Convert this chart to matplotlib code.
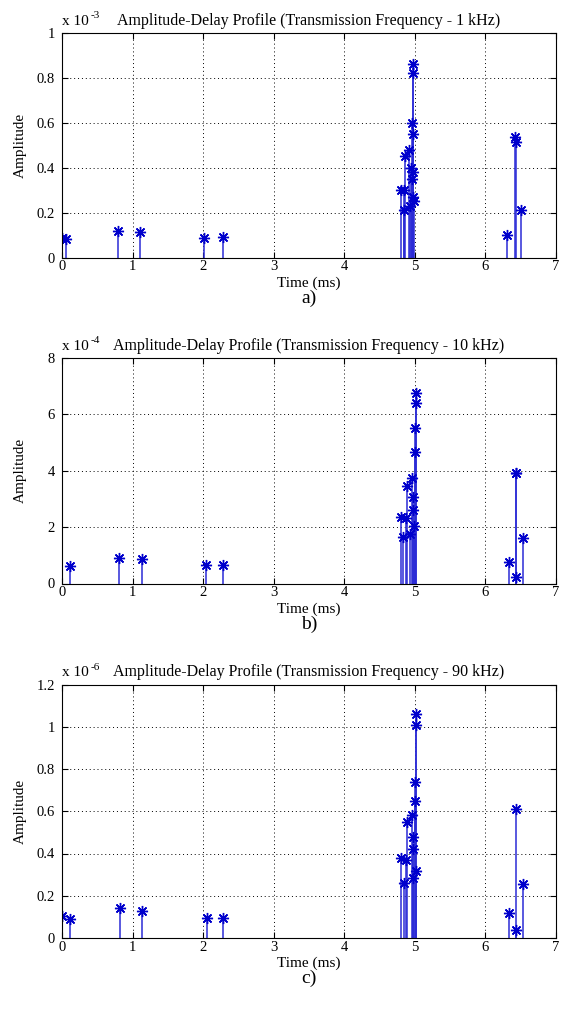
import matplotlib
matplotlib.use("Agg")
import matplotlib.pyplot as plt
import numpy as np

plt.rcParams['font.family'] = ['Liberation Serif', 'DejaVu Serif']

# ---------------- data ----------------
# Panel a) 1 kHz, amplitude x 1e-3
t_a = [0.00, 0.06, 0.80, 1.10, 2.01, 2.28,
       4.80, 4.84, 4.84, 4.86, 4.92, 4.93, 4.95, 4.96, 4.97, 4.97, 4.98, 4.98, 4.99, 4.96, 4.98,
       6.30, 6.42, 6.43, 6.50]
v_a = [0.085, 0.082, 0.117, 0.112, 0.088, 0.092,
       0.30, 0.30, 0.21, 0.45, 0.48, 0.23, 0.40, 0.60, 0.27, 0.38, 0.82, 0.86, 0.25, 0.35, 0.55,
       0.10, 0.535, 0.515, 0.21]

# Panel b) 10 kHz, amplitude x 1e-4
t_b = [0.12, 0.81, 1.14, 2.04, 2.28,
       4.81, 4.83, 4.87, 4.89, 4.93, 4.96, 4.97, 4.99, 5.00, 5.01, 5.01, 4.98, 5.00,
       6.34, 6.43, 6.44, 6.44, 6.53]
v_b = [0.62, 0.92, 0.86, 0.65, 0.65,
       2.37, 1.66, 2.33, 3.46, 1.75, 3.73, 3.08, 2.03, 4.68, 6.42, 6.75, 2.6, 5.5,
       0.77, 3.91, 3.91, 0.24, 1.60]

# Panel c) 90 kHz, amplitude x 1e-6
t_c = [0.00, 0.11, 0.82, 1.13, 2.05, 2.28,
       4.81, 4.84, 4.87, 4.89, 4.96, 4.97, 4.97, 5.00, 5.01, 5.01, 5.01, 4.98, 5.00,
       6.34, 6.43, 6.44, 6.53]
v_c = [0.104, 0.090, 0.140, 0.128, 0.093, 0.093,
       0.377, 0.262, 0.370, 0.550, 0.580, 0.480, 0.285, 0.737, 0.317, 1.008, 1.060, 0.42, 0.65,
       0.120, 0.610, 0.040, 0.255]

titles = ["Amplitude-Delay Profile (Transmission Frequency - 1 kHz)",
          "Amplitude-Delay Profile (Transmission Frequency - 10 kHz)",
          "Amplitude-Delay Profile (Transmission Frequency - 90 kHz)"]
exponents = ["-3", "-4", "-6"]
yticks = [[0, 0.2, 0.4, 0.6, 0.8, 1.0], [0, 2, 4, 6, 8], [0, 0.2, 0.4, 0.6, 0.8, 1.0, 1.2]]
yticklabels = [["0", "0.2", "0.4", "0.6", "0.8", "1"],
               ["0", "2", "4", "6", "8"],
               ["0", "0.2", "0.4", "0.6", "0.8", "1", "1.2"]]
xticks = [0, 1, 2, 3, 4, 5, 6, 7]
panel_labels = ["a)", "b)", "c)"]

series = [(t_a, v_a), (t_b, v_b), (t_c, v_c)]

# ---------------- figure ----------------
W, H = 564, 1009
fig = plt.figure(figsize=(W / 100, H / 100), dpi=100)

# axes boxes in pixel coords: (left, top, right, bottom)
boxes = [(62, 33, 556, 257.5), (62, 358, 556, 583.5), (62, 684.5, 556, 938)]

fs = 11
tfs = 10.5
for i, ((t, v), box) in enumerate(zip(series, boxes)):
    l, tp, r, b = box
    w_px, h_px = r - l, b - tp
    ax = fig.add_axes([l / W, 1 - b / H, w_px / W, h_px / H])
    ml, sl, bl = ax.stem(t, v, linefmt='-', markerfmt=' ', basefmt=' ')
    plt.setp(sl, color='#2b2bd6', linewidth=1.1)
    ax.plot(t, v, linestyle='none', marker=(8, 2, 0), markersize=8,
            markeredgecolor='#0000cc', markeredgewidth=1.0, color='#0000cc')
    ax.plot(t, v, linestyle='none', marker='o', markersize=2.5,
            markeredgecolor='#0000cc', color='#0000cc')
    ax.set_xlim(0, 7)
    ax.set_ylim(yticks[i][0], yticks[i][-1])
    ax.set_xticks(xticks)
    ax.set_xticklabels([str(x) for x in xticks], fontsize=tfs)
    ax.set_yticks(yticks[i])
    ax.set_yticklabels(yticklabels[i], fontsize=tfs)
    ax.grid(True, linestyle=(0, (1, 3)), color='black', linewidth=0.7)
    ax.tick_params(axis='y', direction='in', right=True, length=4, width=0.8, pad=5)
    ax.tick_params(axis='x', direction='in', top=True, length=4, width=0.8, pad=2)
    for s in ax.spines.values():
        s.set_linewidth(0.8)
    ax.set_ylabel("Amplitude", fontsize=fs)
    ax.yaxis.set_label_coords(-(l - 27) / w_px, 0.5)
    ax.set_xlabel("Time (ms)", fontsize=fs)
    ax.xaxis.set_label_coords(0.5, -19 / h_px)
    # title and exponent
    fig.text(l / W, 1 - (tp - 8) / H, "x 10", fontsize=fs, ha='left', va='baseline')
    fig.text((l + 29) / W, 1 - (tp - 15) / H, exponents[i], fontsize=8, ha='left', va='baseline')
    fig.text((l + r) / 2 / W, 1 - (tp - 8) / H, titles[i], fontsize=11.5, ha='center', va='baseline')
    # panel label
    fig.text((l + r) / 2 / W, 1 - (b + 45) / H, panel_labels[i], fontsize=14, ha='center', va='baseline')

fig.savefig("out.png", dpi=100)
